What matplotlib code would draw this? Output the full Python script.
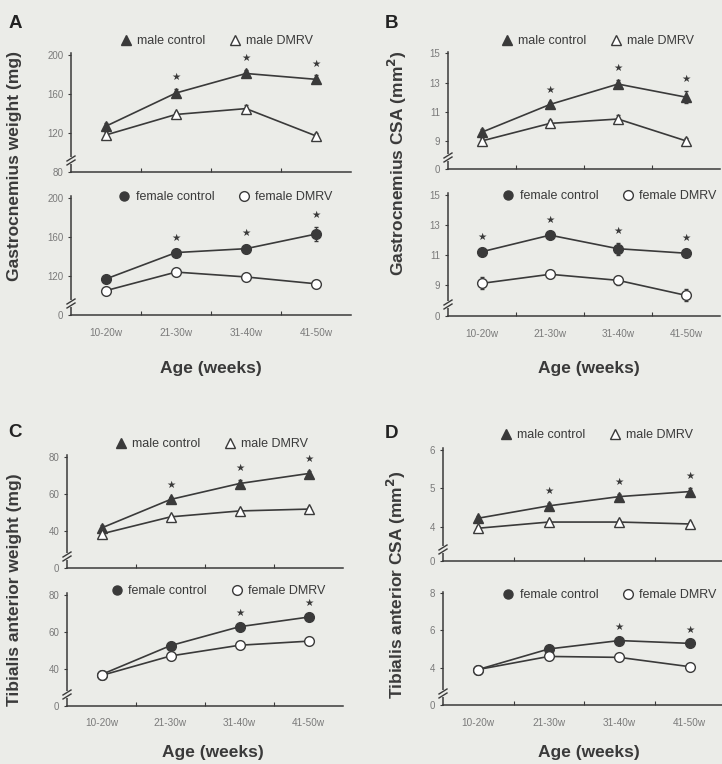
import matplotlib
matplotlib.use("Agg")
import matplotlib.pyplot as plt
from matplotlib.lines import Line2D
from matplotlib.patches import Rectangle

plt.rcParams['font.family'] = ['Liberation Sans', 'DejaVu Sans']

W, H = 722, 764
BG = '#ebece8'
LINE = '#3a3a3a'
TXT = '#3a3a3a'
TICK = '#7a7a7a'

ages = ['10-20w', '21-30w', '31-40w', '41-50w']
xpos = [0.5, 1.5, 2.5, 3.5]

# ---- Panel A: Gastrocnemius weight (mg)
A_male_ctrl = [127, 161, 181, 175]
A_male_dmrv = [118, 139, 145, 117]
A_fem_ctrl = [117, 144, 148, 163]
A_fem_dmrv = [105, 124, 119, 112]
A_male_ctrl_err = [3, 4, 4, 4]
A_male_dmrv_err = [3, 3, 4, 3]
A_fem_ctrl_err = [3, 3, 4, 7]
A_fem_dmrv_err = [3, 3, 3, 3]
A_male_stars = [False, True, True, True]
A_fem_stars = [False, True, True, True]
A_yticks = [80, 120, 160, 200]
A_up_labels = ['80', '120', '160', '200']
A_lo_labels = ['0', '120', '160', '200']

# ---- Panel B: Gastrocnemius CSA (mm^2)
B_male_ctrl = [9.6, 11.5, 12.9, 12.0]
B_male_dmrv = [9.0, 10.2, 10.5, 9.0]
B_fem_ctrl = [11.2, 12.3, 11.4, 11.1]
B_fem_dmrv = [9.1, 9.7, 9.3, 8.3]
B_male_ctrl_err = [0.2, 0.2, 0.3, 0.4]
B_male_dmrv_err = [0.2, 0.2, 0.3, 0.2]
B_fem_ctrl_err = [0.2, 0.2, 0.4, 0.2]
B_fem_dmrv_err = [0.4, 0.2, 0.3, 0.4]
B_male_stars = [False, True, True, True]
B_fem_stars = [True, True, True, True]
B_up_ticks = [7.07, 9, 11, 13, 15]
B_lo_ticks = [6.93, 9, 11, 13, 15]
B_labels = ['0', '9', '11', '13', '15']

# ---- Panel C: Tibialis anterior weight (mg)
C_male_ctrl = [41.6, 57, 65.6, 71]
C_male_dmrv = [38.4, 47.6, 50.8, 51.8]
C_fem_ctrl = [37, 52.6, 62.8, 68]
C_fem_dmrv = [36.5, 47, 52.8, 55]
C_male_ctrl_err = [1.5, 1.5, 2, 1.5]
C_male_dmrv_err = [1.2, 1.2, 1.2, 1.2]
C_fem_ctrl_err = [1.2, 1.2, 1.2, 1.2]
C_fem_dmrv_err = [1.2, 1.2, 1.2, 1.2]
C_male_stars = [False, True, True, True]
C_fem_stars = [False, False, True, True]
C_yticks = [20, 40, 60, 80]
C_labels = ['0', '40', '60', '80']

# ---- Panel D: Tibialis anterior CSA (mm^2)
D_male_ctrl = [4.23, 4.55, 4.79, 4.92]
D_male_dmrv = [3.97, 4.13, 4.13, 4.08]
D_fem_ctrl = [3.9, 5.0, 5.45, 5.3]
D_fem_dmrv = [3.9, 4.6, 4.55, 4.05]
D_male_ctrl_err = [0.05, 0.08, 0.08, 0.1]
D_male_dmrv_err = [0.05, 0.05, 0.05, 0.05]
D_fem_ctrl_err = [0.05, 0.08, 0.08, 0.08]
D_fem_dmrv_err = [0.05, 0.08, 0.08, 0.08]
D_male_stars = [False, True, True, True]
D_fem_stars = [False, False, True, True]
D_up_ticks = [3.12, 4, 5, 6]
D_up_labels = ['0', '4', '5', '6']
D_lo_ticks = [2.0, 4, 6, 8]
D_lo_labels = ['0', '4', '6', '8']

fig = plt.figure(figsize=(W / 100, H / 100), dpi=100, facecolor=BG)


def add_ax(x0, x1, ytop, ybot):
    return fig.add_axes([x0 / W, 1 - ybot / H, (x1 - x0) / W, (ybot - ytop) / H])


def style(ax, xlim, ylim, yticks, ylabels, show_x):
    ax.set_facecolor(BG)
    ax.patch.set_alpha(0)
    ax.set_xlim(*xlim)
    ax.set_ylim(*ylim)
    for s in ['top', 'right']:
        ax.spines[s].set_visible(False)
    for s in ['left', 'bottom']:
        ax.spines[s].set_color(LINE)
        ax.spines[s].set_linewidth(1.1)
    ax.set_yticks(yticks)
    ax.set_yticklabels(ylabels)
    ax.tick_params(axis='y', direction='out', length=2.5, width=0.8, colors=LINE,
                   labelcolor=TICK, labelsize=7, pad=3)
    ax.set_xticks([1, 2, 3])
    ax.set_xticklabels([])
    ax.tick_params(axis='x', which='major', direction='in', length=3, width=0.8, colors=LINE)
    if show_x:
        ax.set_xticks(xpos, minor=True)
        ax.set_xticklabels(ages, minor=True)
        ax.tick_params(axis='x', which='minor', length=0, labelcolor=TICK, labelsize=7.2, pad=9)
    # axis break marks
    bb = ax.get_position()
    wpx = bb.width * W
    hpx = bb.height * H
    yb = 11.5 / hpx
    ax.add_patch(Rectangle((-3 / wpx, yb - 3.5 / hpx), 6 / wpx, 7 / hpx, transform=ax.transAxes,
                           facecolor=BG, edgecolor='none', clip_on=False, zorder=5))
    for off in (-2.0, 2.0):
        ax.plot([-4 / wpx, 4 / wpx], [yb + (off - 2.5) / hpx, yb + (off + 2.5) / hpx],
                transform=ax.transAxes, color=LINE, lw=1.0, clip_on=False, zorder=6)


def series(ax, y, err, marker, filled, stars=None):
    ax.errorbar(xpos, y, yerr=err, color=LINE, lw=1.2, marker=marker, ms=7.5 if marker == '^' else 7,
                mfc=LINE if filled else 'white', mec=LINE, mew=1.0, ecolor=LINE, elinewidth=0.9,
                capsize=1.5, zorder=3 if filled else 4)
    if stars is not None:
        for xi, yi, e, s in zip(xpos, y, err, stars):
            if s:
                ax.annotate('★', (xi, yi + e), xytext=(0, 5), textcoords='offset points',
                            ha='center', va='bottom', fontsize=7.5, color=LINE,
                            family=['DejaVu Sans'])


def legend(ax, filled_marker, labels, cx, cy):
    h = [Line2D([], [], ls='none', marker=filled_marker, ms=6.5, mfc=LINE, mec=LINE),
         Line2D([], [], ls='none', marker=filled_marker, ms=7, mfc='white', mec=LINE, mew=1.0)]
    ax.legend(h, labels, loc='center', bbox_to_anchor=(cx / W, 1 - cy / H),
              bbox_transform=fig.transFigure, ncol=2, frameon=False, handlelength=0.8,
              handletextpad=0.5, columnspacing=2.0, fontsize=9, labelcolor=TXT,
              borderpad=0, borderaxespad=0)


def panel(letter, lx, ly, xl, xr, up, lo, ylim_up, ylim_lo, ticks_up, labs_up, ticks_lo, labs_lo,
          xlim, data, legpos, ylabel, ylx, yly, agex, agey):
    ax1 = add_ax(xl, xr, *up)
    ax2 = add_ax(xl, xr, *lo)
    style(ax1, xlim, ylim_up, ticks_up, labs_up, False)
    style(ax2, xlim, ylim_lo, ticks_lo, labs_lo, True)
    (mc, md, fc, fd, mce, mde, fce, fde, ms, fs) = data
    series(ax1, md, mde, '^', False)
    series(ax1, mc, mce, '^', True, ms)
    series(ax2, fd, fde, 'o', False)
    series(ax2, fc, fce, 'o', True, fs)
    legend(ax1, '^', ['male control', 'male DMRV'], *legpos[0])
    legend(ax2, 'o', ['female control', 'female DMRV'], *legpos[1])
    fig.text(lx / W, 1 - ly / H, letter, fontsize=13.5, fontweight='bold', color='#222222',
             ha='center', va='center')
    fig.text(ylx / W, 1 - yly / H, ylabel, rotation=90, fontsize=12.5, fontweight='bold',
             color=TXT, ha='center', va='center')
    fig.text(agex / W, 1 - agey / H, 'Age (weeks)', fontsize=12.5, fontweight='bold',
             color=TXT, ha='center', va='center')


panel('A', 15, 24, 71, 351, (53, 172), (196, 315), (80, 202), (80, 202),
      A_yticks, A_up_labels, A_yticks, A_lo_labels, (0, 4),
      (A_male_ctrl, A_male_dmrv, A_fem_ctrl, A_fem_dmrv, A_male_ctrl_err, A_male_dmrv_err,
       A_fem_ctrl_err, A_fem_dmrv_err, A_male_stars, A_fem_stars),
      [(217, 41), (226, 197)], 'Gastrocnemius weight (mg)', 15, 166, 211, 368)

panel('B', 391, 24, 448, 720, (52, 169), (193, 316), (7.07, 15.1), (6.93, 15.1),
      B_up_ticks, B_labels, B_lo_ticks, B_labels, (0, 4),
      (B_male_ctrl, B_male_dmrv, B_fem_ctrl, B_fem_dmrv, B_male_ctrl_err, B_male_dmrv_err,
       B_fem_ctrl_err, B_fem_dmrv_err, B_male_stars, B_fem_stars),
      [(598, 41), (610, 196)], 'Gastrocnemius CSA (mm$^\\mathbf{2}$)', 397, 163, 589, 368)

panel('C', 15, 432, 67, 343, (455, 568), (593, 706), (20, 81), (20, 81),
      C_yticks, C_labels, C_yticks, C_labels, (0, 4),
      (C_male_ctrl, C_male_dmrv, C_fem_ctrl, C_fem_dmrv, C_male_ctrl_err, C_male_dmrv_err,
       C_fem_ctrl_err, C_fem_dmrv_err, C_male_stars, C_fem_stars),
      [(212, 444), (219, 591)], 'Tibialis anterior weight (mg)', 15, 590, 213, 753)

panel('D', 391, 433, 443, 721.5, (448, 561), (592, 705), (3.12, 6.05), (2.0, 8.05),
      D_up_ticks, D_up_labels, D_lo_ticks, D_lo_labels, (0, 3.95),
      (D_male_ctrl, D_male_dmrv, D_fem_ctrl, D_fem_dmrv, D_male_ctrl_err, D_male_dmrv_err,
       D_fem_ctrl_err, D_fem_dmrv_err, D_male_stars, D_fem_stars),
      [(597, 435), (610, 595)], 'Tibialis anterior CSA (mm$^\\mathbf{2}$)', 396, 585, 589, 753)

fig.savefig('out.png', dpi=100, facecolor=BG)
